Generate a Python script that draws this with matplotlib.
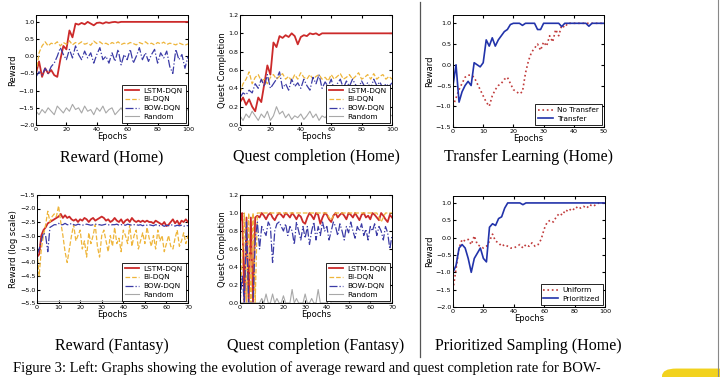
import matplotlib
matplotlib.use("Agg")
import matplotlib.pyplot as plt
from matplotlib.patches import FancyBboxPatch

plt.rcParams.update({
    "font.family": ["DejaVu Sans"],
    "xtick.direction": "in", "ytick.direction": "in",
    "xtick.top": True, "ytick.right": True,
    "xtick.labelsize": 4.6, "ytick.labelsize": 4.6,
    "xtick.major.size": 2, "ytick.major.size": 2,
    "xtick.major.pad": 1.2, "ytick.major.pad": 1.2,
    "axes.linewidth": 0.7,
})

# ---------------- data ----------------
epochs_home = list(range(0, 101, 2))
epochs_fantasy = list(range(0, 71))
epochs_transfer = list(range(0, 51))
epochs_random_fantasy = list(range(0, 71, 5))

reward_home_lstm = [-0.5, -0.15, -0.6, -0.35, -0.5, -0.4, -0.55, -0.6, -0.1, 0.3, 0.2, 0.75, 0.55, 0.95,
                    0.92, 0.97, 0.93, 1.0, 0.95, 0.9, 0.97, 0.98, 0.95, 0.99, 0.97, 0.99, 1.0, 0.98, 1.0,
                    1.0, 1.0, 1.0, 1.0, 1.0, 1.0, 1.0, 1.0, 1.0, 1.0, 1.0, 1.0, 1.0, 1.0, 1.0, 1.0, 1.0,
                    1.0, 1.0, 1.0, 1.0, 1.0]
reward_home_bi = [-0.5, 0.1, 0.3, 0.42, 0.3, 0.38, 0.35, 0.42, 0.3, 0.4, 0.35, 0.45, 0.33, 0.4, 0.36, 0.42,
                  0.35, 0.38, 0.32, 0.44, 0.37, 0.42, 0.35, 0.38, 0.33, 0.4, 0.36, 0.42, 0.34, 0.38, 0.35,
                  0.4, 0.37, 0.33, 0.4, 0.36, 0.42, 0.35, 0.38, 0.33, 0.4, 0.36, 0.41, 0.34, 0.38, 0.36,
                  0.33, 0.39, 0.35, 0.32, 0.36]
reward_home_bow = [-0.6, -0.45, -0.55, -0.35, -0.5, -0.3, -0.2, 0.0, 0.25, 0.05, -0.1, 0.2, -0.05, 0.3,
                   0.05, -0.1, 0.15, -0.05, 0.1, -0.2, 0.05, 0.25, -0.1, 0.0, -0.2, 0.1, -0.15, 0.2, -0.25,
                   0.05, -0.1, 0.2, -0.2, 0.0, 0.25, -0.1, 0.1, -0.15, 0.05, 0.2, -0.2, 0.1, -0.05, 0.15,
                   -0.3, -0.5, 0.2, -0.1, 0.05, -0.35, 0.0]
reward_home_random = [-1.6, -1.7, -1.55, -1.65, -1.5, -1.6, -1.7, -1.45, -1.55, -1.65, -1.5, -1.6, -1.4,
                      -1.55, -1.5, -1.65, -1.45, -1.6, -1.55, -1.7, -1.5, -1.6, -1.45, -1.65, -1.55, -1.5,
                      -1.7, -1.6, -1.5, -1.65, -1.55, -1.6, -1.5, -1.65, -1.55, -1.6, -1.5, -1.7, -1.55,
                      -1.6, -1.5, -1.65, -1.55, -1.6, -1.5, -1.65, -1.55, -1.6, -1.5, -1.6, -1.55]

quest_home_lstm = [0.25, 0.3, 0.22, 0.28, 0.2, 0.15, 0.3, 0.25, 0.45, 0.65, 0.55, 0.9, 0.85, 0.97, 0.95,
                   0.98, 0.96, 1.0, 0.97, 0.88, 0.96, 0.98, 0.97, 1.0, 0.99, 1.0, 0.98, 1.0, 1.0, 1.0, 1.0,
                   1.0, 1.0, 1.0, 1.0, 1.0, 1.0, 1.0, 1.0, 1.0, 1.0, 1.0, 1.0, 1.0, 1.0, 1.0, 1.0, 1.0,
                   1.0, 1.0, 1.0]
quest_home_bi = [0.35, 0.45, 0.5, 0.58, 0.45, 0.52, 0.55, 0.48, 0.5, 0.45, 0.52, 0.55, 0.5, 0.53, 0.56,
                 0.5, 0.53, 0.48, 0.55, 0.5, 0.57, 0.52, 0.5, 0.55, 0.5, 0.53, 0.55, 0.5, 0.52, 0.48, 0.55,
                 0.5, 0.53, 0.56, 0.5, 0.52, 0.55, 0.5, 0.53, 0.57, 0.5, 0.52, 0.55, 0.5, 0.56, 0.5, 0.53,
                 0.55, 0.5, 0.53, 0.5]
quest_home_bow = [0.3, 0.35, 0.33, 0.38, 0.35, 0.45, 0.4, 0.5, 0.42, 0.55, 0.4, 0.45, 0.5, 0.58, 0.4,
                  0.45, 0.38, 0.5, 0.42, 0.46, 0.4, 0.5, 0.43, 0.38, 0.52, 0.45, 0.55, 0.4, 0.47, 0.42,
                  0.5, 0.38, 0.45, 0.5, 0.4, 0.48, 0.42, 0.5, 0.44, 0.4, 0.48, 0.42, 0.46, 0.4, 0.5, 0.43,
                  0.47, 0.4, 0.45, 0.42, 0.46]
quest_home_random = [0.1, 0.05, 0.12, 0.08, 0.15, 0.1, 0.05, 0.12, 0.08, 0.15, 0.05, 0.1, 0.2, 0.12, 0.15,
                     0.08, 0.12, 0.06, 0.1, 0.08, 0.12, 0.06, 0.1, 0.15, 0.08, 0.12, 0.05, 0.1, 0.08, 0.12,
                     0.1, 0.06, 0.12, 0.08, 0.1, 0.14, 0.06, 0.1, 0.08, 0.12, 0.1, 0.05, 0.12, 0.08, 0.1,
                     0.14, 0.06, 0.1, 0.08, 0.12, 0.1]

transfer_yes = [-0.5, 0.0, -0.9, -0.65, -0.5, -0.4, -0.5, 0.05, 0.0, -0.05, 0.05, 0.6, 0.45, 0.65, 0.45,
                0.6, 0.7, 0.8, 0.85, 0.97, 1.0, 1.0, 1.0, 0.95, 1.0, 1.0, 1.0, 1.0, 0.85, 0.85, 1.0, 1.0,
                1.0, 1.0, 1.0, 1.0, 0.92, 1.0, 1.0, 1.0, 1.0, 1.0, 1.0, 1.0, 1.0, 0.93, 1.0, 1.0, 1.0,
                1.0, 1.0]
transfer_no = [-1.0, -0.8, -0.6, -0.45, -0.3, -0.25, -0.25, -0.3, -0.45, -0.6, -0.75, -0.9, -1.0, -0.75,
               -0.6, -0.5, -0.45, -0.35, -0.3, -0.45, -0.6, -0.65, -0.7, -0.65, -0.2, 0.1, 0.3, 0.4, 0.5,
               0.35, 0.55, 0.45, 0.7, 0.55, 0.85, 0.7, 0.95, 0.9, 1.0, 1.0, 1.0, 1.0, 1.0, 1.0, 1.0, 1.0,
               1.0, 1.0, 1.0, 1.0, 1.0]

reward_fantasy_lstm = [-3.8, -3.7, -3.0, -2.8, -2.7, -2.55, -2.5, -2.45, -2.4, -2.35, -2.3, -2.2, -2.35,
                       -2.25, -2.35, -2.3, -2.4, -2.45, -2.4, -2.5, -2.4, -2.45, -2.35, -2.4, -2.5, -2.4,
                       -2.35, -2.45, -2.4, -2.35, -2.3, -2.35, -2.45, -2.4, -2.5, -2.45, -2.35, -2.45,
                       -2.5, -2.4, -2.55, -2.45, -2.4, -2.5, -2.35, -2.45, -2.5, -2.45, -2.5, -2.45, -2.5,
                       -2.45, -2.5, -2.5, -2.55, -2.45, -2.5, -2.55, -2.6, -2.5, -2.65, -2.6, -2.5, -2.4,
                       -2.55, -2.45, -2.6, -2.45, -2.5, -2.4, -2.5]
reward_fantasy_bi = [-3.6, -4.5, -3.5, -3.0, -2.6, -2.1, -2.5, -2.3, -2.2, -2.3, -1.9, -2.5, -3.0, -3.6,
                     -4.0, -3.5, -3.0, -2.6, -3.2, -3.0, -2.8, -3.5, -3.2, -3.8, -2.9, -3.3, -3.0, -2.6,
                     -3.4, -3.8, -3.0, -2.8, -3.2, -3.6, -3.0, -3.4, -2.7, -3.3, -3.1, -3.6, -2.8, -3.0,
                     -3.3, -2.6, -3.4, -3.0, -2.8, -3.5, -3.2, -2.9, -3.3, -2.7, -3.1, -3.4, -3.0, -3.5,
                     -2.8, -3.2, -3.0, -3.6, -3.3, -3.0, -3.4, -3.5, -3.1, -2.8, -3.4, -3.2, -2.9, -3.3,
                     -3.0]
reward_fantasy_bow = [-3.7, -3.5, -3.2, -2.9, -3.0, -3.6, -2.7, -2.65, -2.6, -2.6, -2.55, -2.6, -2.6,
                      -2.55, -2.6, -2.6, -2.55, -2.6, -2.62, -2.58, -2.6, -2.62, -2.6, -2.58, -2.6, -2.62,
                      -2.6, -2.58, -2.6, -2.6, -2.62, -2.6, -2.58, -2.6, -2.62, -2.6, -2.6, -2.58, -2.62,
                      -2.6, -2.6, -2.62, -2.58, -2.6, -2.62, -2.6, -2.6, -2.62, -2.6, -2.64, -2.6, -2.62,
                      -2.6, -2.62, -2.64, -2.6, -2.62, -2.64, -2.62, -2.66, -2.62, -2.64, -2.6, -2.62,
                      -2.65, -2.62, -2.64, -2.62, -2.66, -2.62, -2.64]
reward_fantasy_random = [-5.42, -5.42, -5.42, -5.42, -5.42, -5.42, -5.42, -5.42, -5.42, -5.42, -5.42,
                         -5.42, -5.42, -5.42, -5.42]

quest_fantasy_lstm = [0.9, 1.0, 0.0, 0.95, 0.0, 0.95, 0.0, 0.95, 0.97, 0.95, 1.0, 0.97, 0.93, 0.98, 1.0,
                      0.95, 0.92, 0.97, 1.0, 0.98, 0.95, 1.0, 0.98, 0.95, 1.0, 0.97, 0.93, 0.98, 0.96, 0.9,
                      0.88, 0.95, 1.0, 0.97, 0.93, 1.0, 0.98, 0.88, 0.95, 1.0, 0.98, 0.93, 0.9, 0.97, 1.0,
                      0.95, 0.98, 1.0, 0.97, 0.93, 1.0, 0.98, 0.95, 1.0, 0.96, 0.92, 0.98, 1.0, 0.95, 0.97,
                      0.93, 1.0, 0.98, 0.95, 0.92, 1.0, 0.97, 0.93, 0.9, 0.98, 0.95]
quest_fantasy_bi = [0.0, 0.5, 1.0, 0.0, 1.0, 0.0, 1.0, 0.0, 1.0, 1.0, 1.0, 1.0, 1.0, 1.0, 1.0, 1.0, 1.0,
                    1.0, 1.0, 1.0, 1.0, 1.0, 1.0, 1.0, 1.0, 1.0, 1.0, 1.0, 1.0, 1.0, 1.0, 1.0, 1.0, 1.0,
                    1.0, 1.0, 1.0, 1.0, 1.0, 1.0, 1.0, 0.95, 0.92, 0.97, 1.0, 1.0, 1.0, 1.0, 1.0, 1.0, 1.0,
                    1.0, 1.0, 1.0, 1.0, 1.0, 1.0, 1.0, 1.0, 1.0, 1.0, 1.0, 1.0, 1.0, 0.95, 0.9, 0.95, 1.0,
                    1.0, 1.0, 1.0]
quest_fantasy_bow = [0.0, 0.3, 0.0, 0.9, 0.0, 0.0, 0.0, 0.7, 0.9, 0.6, 0.85, 0.8, 0.75, 0.9, 0.85, 0.45,
                     0.8, 0.88, 0.9, 0.85, 0.8, 0.88, 0.75, 0.85, 0.8, 0.65, 0.9, 0.8, 0.7, 0.85, 0.72,
                     0.85, 0.65, 0.8, 0.9, 0.7, 0.85, 0.75, 0.9, 0.8, 0.85, 0.7, 0.8, 0.9, 0.85, 0.75, 0.88,
                     0.8, 0.7, 0.85, 0.78, 0.9, 0.8, 0.72, 0.85, 0.8, 0.88, 0.75, 0.82, 0.7, 0.85, 0.8,
                     0.88, 0.75, 0.85, 0.8, 0.7, 0.85, 0.78, 0.6, 0.75]
quest_fantasy_random = [0.0, 0.0, 0.0, 0.0, 0.0, 0.0, 0.0, 0.0, 0.0, 0.0, 0.05, 0.0, 0.1, 0.0, 0.0, 0.1,
                        0.0, 0.05, 0.0, 0.0, 0.08, 0.0, 0.0, 0.0, 0.15, 0.0, 0.05, 0.0, 0.0, 0.0, 0.1, 0.0,
                        0.0, 0.05, 0.0, 0.0, 0.15, 0.0, 0.0, 0.0, 0.0, 0.05, 0.0, 0.0, 0.0, 0.0, 0.0, 0.0,
                        0.0, 0.0, 0.0, 0.0, 0.0, 0.0, 0.0, 0.0, 0.0, 0.0, 0.0, 0.0, 0.0, 0.0, 0.0, 0.0,
                        0.0, 0.0, 0.0, 0.0, 0.0, 0.0, 0.0]

prior_yes = [-1.0, -0.8, -0.3, -0.2, -0.3, -0.6, -1.0, -0.6, -0.45, -0.3, -0.6, -0.7, 0.3, 0.4, 0.35,
             0.55, 0.6, 0.85, 1.0, 1.0, 1.0, 1.0, 1.0, 0.95, 1.0, 1.0, 1.0, 1.0, 1.0, 1.0, 1.0, 1.0, 1.0,
             1.0, 1.0, 1.0, 1.0, 1.0, 1.0, 1.0, 1.0, 1.0, 1.0, 1.0, 1.0, 1.0, 1.0, 1.0, 1.0, 1.0, 1.0]
prior_uniform = [-1.5, -0.9, -0.3, -0.05, -0.1, -0.05, -0.2, 0.05, -0.2, -0.25, -0.3, -0.25, -0.1, 0.1,
                 -0.1, -0.15, -0.25, -0.2, -0.25, -0.3, -0.3, -0.25, -0.2, -0.3, -0.2, -0.25, -0.15,
                 -0.25, -0.2, -0.05, 0.25, 0.45, 0.5, 0.45, 0.6, 0.7, 0.65, 0.8, 0.75, 0.85, 0.8, 0.9,
                 0.85, 0.9, 0.85, 0.95, 0.9, 0.95, 1.0, 1.0, 1.0]

model_labels = ["LSTM-DQN", "BI-DQN", "BOW-DQN", "Random"]
captions = ["Reward (Home)", "Quest completion (Home)", "Transfer Learning (Home)",
            "Reward (Fantasy)", "Quest completion (Fantasy)", "Prioritized Sampling (Home)"]
figure_caption = ("Figure 3: Left: Graphs showing the evolution of average reward and quest "
                  "completion rate for BOW-")

# ---------------- styles ----------------
C_RED = "#cc2a2a"
C_YEL = "#eeb53a"
C_BLUE = "#3b3ba6"
C_GRAY = "#a8a8a8"
C_DRED = "#c03a3a"
C_DBLUE = "#2233aa"

fig = plt.figure(figsize=(7.2, 3.77), dpi=100)
W, H = 720.0, 377.0


def add_ax(l, t, r, b):
    return fig.add_axes([l / W, 1 - b / H, (r - l) / W, (b - t) / H])


def style_legend(ax, fs=5.3):
    leg = ax.legend(loc="lower right", fontsize=fs, fancybox=False, framealpha=1,
                    edgecolor="black", handlelength=2.0, borderpad=0.4, labelspacing=0.35,
                    handletextpad=0.6, borderaxespad=0.3)
    leg.get_frame().set_linewidth(0.6)


def labels(ax, ylab):
    ax.set_xlabel("Epochs", fontsize=6, labelpad=0)
    ax.set_ylabel(ylab, fontsize=6, labelpad=1)


def four_models(ax, x, xr, lstm, bi, bow, rnd):
    ax.plot(x, lstm, color=C_RED, lw=1.3, ls="-", label=model_labels[0])
    ax.plot(x, bi, color=C_YEL, lw=0.9, ls="--", label=model_labels[1])
    ax.plot(x, bow, color=C_BLUE, lw=0.9, ls="-.", label=model_labels[2])
    ax.plot(xr, rnd, color=C_GRAY, lw=0.8, ls="-", label=model_labels[3])


# Row 1
ax1 = add_ax(36, 15, 188, 125)
four_models(ax1, epochs_home, epochs_home, reward_home_lstm, reward_home_bi, reward_home_bow,
            reward_home_random)
ax1.set_xlim(0, 100); ax1.set_ylim(-2.0, 1.2)
ax1.set_yticks([-2.0, -1.5, -1.0, -0.5, 0.0, 0.5, 1.0])
labels(ax1, "Reward"); style_legend(ax1)

ax2 = add_ax(240, 15, 392, 125)
four_models(ax2, epochs_home, epochs_home, quest_home_lstm, quest_home_bi, quest_home_bow,
            quest_home_random)
ax2.set_xlim(0, 100); ax2.set_ylim(0, 1.2)
ax2.set_yticks([0.0, 0.2, 0.4, 0.6, 0.8, 1.0, 1.2])
labels(ax2, "Quest Completion"); style_legend(ax2)

ax3 = add_ax(453, 15, 604, 127)
ax3.plot(epochs_transfer, transfer_no, color=C_DRED, lw=1.2, ls=":", label="No Transfer")
ax3.plot(epochs_transfer, transfer_yes, color=C_DBLUE, lw=1.2, ls="-", label="Transfer")
ax3.set_xlim(0, 50); ax3.set_ylim(-1.5, 1.2)
ax3.set_yticks([-1.5, -1.0, -0.5, 0.0, 0.5, 1.0])
labels(ax3, "Reward"); style_legend(ax3)

# Row 2
ax4 = add_ax(37, 195, 188, 303)
four_models(ax4, epochs_fantasy, epochs_random_fantasy, reward_fantasy_lstm, reward_fantasy_bi,
            reward_fantasy_bow, reward_fantasy_random)
ax4.set_xlim(0, 70); ax4.set_ylim(-5.5, -1.5)
ax4.set_yticks([-5.5, -5.0, -4.5, -4.0, -3.5, -3.0, -2.5, -2.0, -1.5])
labels(ax4, "Reward (log scale)"); style_legend(ax4)

ax5 = add_ax(240, 195, 392, 303)
four_models(ax5, epochs_fantasy, epochs_fantasy, quest_fantasy_lstm, quest_fantasy_bi,
            quest_fantasy_bow, quest_fantasy_random)
ax5.set_xlim(0, 70); ax5.set_ylim(0, 1.2)
ax5.set_yticks([0.0, 0.2, 0.4, 0.6, 0.8, 1.0, 1.2])
labels(ax5, "Quest Completion"); style_legend(ax5)

ax6 = add_ax(453, 196, 605, 307)
ax6.plot(epochs_home, prior_uniform, color=C_DRED, lw=1.2, ls=":", label="Uniform")
ax6.plot(epochs_home, prior_yes, color=C_DBLUE, lw=1.2, ls="-", label="Prioritized")
ax6.set_xlim(0, 100); ax6.set_ylim(-2.0, 1.2)
ax6.set_yticks([-2.0, -1.5, -1.0, -0.5, 0.0, 0.5, 1.0])
labels(ax6, "Reward"); style_legend(ax6)

# sub-captions
serif = ["Liberation Serif", "DejaVu Serif"]
cap_pos = [(112, 157), (316, 157), (528, 157), (112, 346), (316, 346), (528, 346)]
for (cx, cy), txt in zip(cap_pos, captions):
    fig.text(cx / W, 1 - cy / H, txt, ha="center", va="center", fontsize=11.5, family=serif)

fig.text(13 / W, 2 / H, figure_caption, ha="left", va="bottom", fontsize=10.5, family=serif)

# separators
fig.add_artist(plt.Line2D([420 / W, 420 / W], [1 - 2 / H, 1 - 357 / H], color="#555555", lw=0.9))
fig.add_artist(plt.Line2D([718 / W, 718 / W], [0, 1], color="#888888", lw=0.8))

# yellow badge in the corner
fig.add_artist(FancyBboxPatch((662 / W, -0.02), 70 / W, 16 / H,
                              boxstyle="round,pad=0,rounding_size=0.02",
                              transform=fig.transFigure, facecolor="#f2d21e", edgecolor="none"))

fig.savefig("out.png", dpi=100)
